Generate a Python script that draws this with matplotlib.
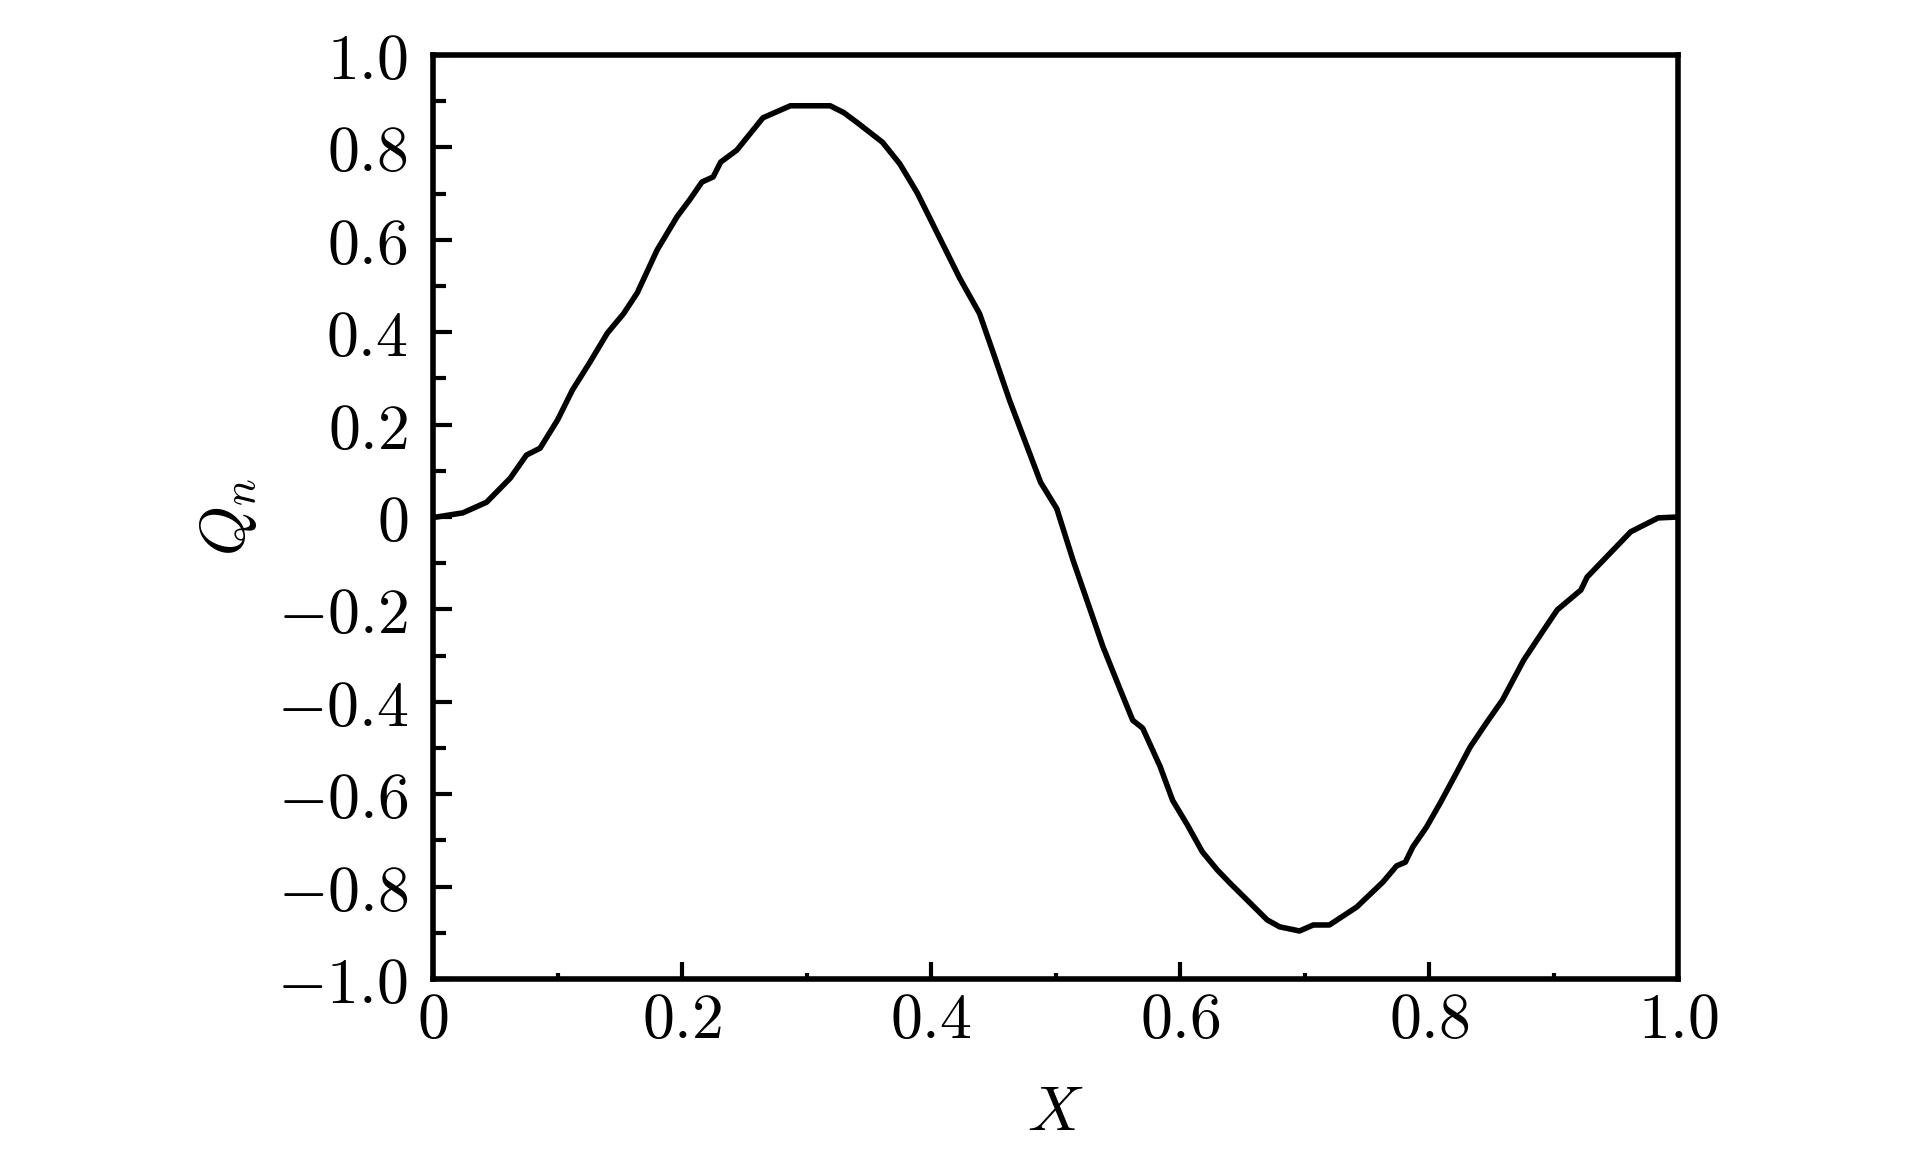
import matplotlib
matplotlib.use("Agg")
import matplotlib.pyplot as plt
from matplotlib.ticker import MultipleLocator, FixedLocator

plt.rcParams['mathtext.fontset'] = 'cm'
plt.rcParams['font.family'] = 'DejaVu Serif'

# Data
x_vals = [0.000, 0.003, 0.024, 0.043, 0.062, 0.075, 0.086, 0.100, 0.112, 0.126,
          0.140, 0.153, 0.164, 0.180, 0.196, 0.206, 0.216, 0.225, 0.231, 0.244,
          0.265, 0.287, 0.319, 0.330, 0.341, 0.361, 0.375, 0.389, 0.423, 0.439,
          0.450, 0.463, 0.488, 0.501, 0.514, 0.538, 0.552, 0.562, 0.570, 0.584,
          0.594, 0.606, 0.618, 0.630, 0.640, 0.670, 0.680, 0.696, 0.707, 0.720,
          0.742, 0.763, 0.774, 0.781, 0.787, 0.798, 0.809, 0.822, 0.833, 0.846,
          0.859, 0.876, 0.892, 0.903, 0.922, 0.927, 0.962, 0.984, 1.000]
q_vals = [0.000, 0.000, 0.009, 0.032, 0.084, 0.134, 0.149, 0.210, 0.275, 0.335,
          0.398, 0.440, 0.485, 0.578, 0.650, 0.686, 0.725, 0.736, 0.768, 0.794,
          0.864, 0.890, 0.890, 0.875, 0.853, 0.811, 0.764, 0.701, 0.517, 0.440,
          0.355, 0.253, 0.075, 0.018, -0.093, -0.280, -0.374, -0.440, -0.457, -0.540,
          -0.613, -0.667, -0.725, -0.764, -0.792, -0.872, -0.887, -0.896, -0.883, -0.883,
          -0.844, -0.790, -0.755, -0.747, -0.714, -0.671, -0.619, -0.554, -0.498, -0.446,
          -0.396, -0.310, -0.245, -0.201, -0.158, -0.130, -0.032, -0.002, 0.000]

x_ticks = [0, 0.2, 0.4, 0.6, 0.8, 1.0]
x_ticklabels = ['0', '0.2', '0.4', '0.6', '0.8', '1.0']
y_ticks = [-1.0, -0.8, -0.6, -0.4, -0.2, 0, 0.2, 0.4, 0.6, 0.8, 1.0]
y_ticklabels = ['-1.0', '-0.8', '-0.6', '-0.4', '-0.2', '0', '0.2', '0.4', '0.6', '0.8', '1.0']

fig = plt.figure(figsize=(19.23, 11.69), dpi=100)
ax = fig.add_axes([0.2252, 0.1625, 0.6474, 0.7905])

ax.plot(x_vals, q_vals, color='black', lw=4.0, solid_joinstyle='round')

ax.set_xlim(0, 1.0)
ax.set_ylim(-1.0, 1.0)

ax.xaxis.set_major_locator(FixedLocator(x_ticks))
ax.xaxis.set_minor_locator(MultipleLocator(0.1))
ax.yaxis.set_major_locator(FixedLocator(y_ticks))
ax.yaxis.set_minor_locator(MultipleLocator(0.1))
ax.set_xticklabels(['$' + s + '$' for s in x_ticklabels])
ax.set_yticklabels(['$' + s + '$' for s in y_ticklabels])

for sp in ax.spines.values():
    sp.set_linewidth(4.0)

ax.tick_params(axis='both', which='both', direction='in', top=False, right=False,
               labelsize=46, width=3.0)
ax.tick_params(axis='y', which='major', length=14, pad=18)
ax.tick_params(axis='y', which='minor', length=9)
ax.tick_params(axis='x', which='major', length=12, pad=8)
ax.tick_params(axis='x', which='minor', length=4)

ax.set_xlabel('$X$', fontsize=46, labelpad=22)
ax.set_ylabel('$Q_n$', fontsize=46, labelpad=13)

fig.savefig('out.png', dpi=100)
